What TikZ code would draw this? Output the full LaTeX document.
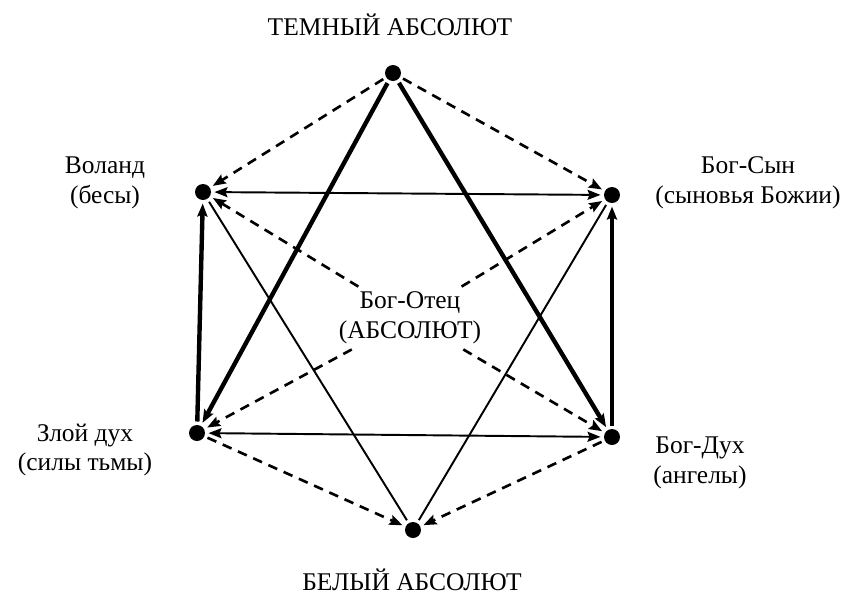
\documentclass[tikz,border=0pt]{standalone}
\usepackage{fontspec}
\setmainfont{Liberation Serif}
\usetikzlibrary{arrows.meta}

\begin{document}
\begin{tikzpicture}[x=0.02cm,y=-0.02cm,
  >={Stealth[length=0.26cm,width=0.2cm,inset=0.04cm]},
  dot/.style={circle,fill=black,inner sep=0pt,minimum size=0.32cm,outer sep=0.07cm},
  txt/.style={align=center,font=\fontsize{14.5}{17}\selectfont,inner sep=0.1cm},
  heavy/.style={line width=2.5pt},
  light/.style={line width=1.1pt},
  dashline/.style={line width=1.5pt,dash pattern=on 5.5pt off 4pt}]
  \useasboundingbox (0,0) rectangle (850,596);
  % Vertices
  \node[dot] (T) at (393,73) {};
  \node[dot] (V) at (203,192) {};
  \node[dot] (S) at (612,195) {};
  \node[dot] (Z) at (197,433) {};
  \node[dot] (D) at (612,437) {};
  \node[dot] (B) at (413,530) {};
  % Labels
  \node[txt] (tl) at (390,25) {ТЕМНЫЙ АБСОЛЮТ};
  \node[txt] (vl) at (105,183) {Воланд\\(бесы)};
  \node[txt] (sl) at (748,183) {Бог-Сын\\(сыновья Божии)};
  \node[txt] (zl) at (85,450) {Злой дух\\(силы тьмы)};
  \node[txt] (dl) at (700,463) {Бог-Дух\\(ангелы)};
  \node[txt] (c) at (410,318) {Бог-Отец\\(АБСОЛЮТ)};
  \node[txt] (bl) at (412,580) {БЕЛЫЙ АБСОЛЮТ};
  % Solid connectors
  \draw[heavy,->] (T) -- (Z);
  \draw[heavy,->] (T) -- (D);
  \draw[heavy,->] (Z) -- (V);
  \draw[heavy,->] (D) -- (S);
  \draw[light,<->] (V) -- (S);
  \draw[light,<->] (Z) -- (D);
  \draw[light] (V) -- (B);
  \draw[light] (S) -- (B);
  % Dashed connectors
  \foreach \a/\b in {T/V,T/S,Z/B,D/B,c/V,c/S,c/Z,c/D}
    \draw[dashline,->] (\a) -- (\b);
\end{tikzpicture}
\end{document}
